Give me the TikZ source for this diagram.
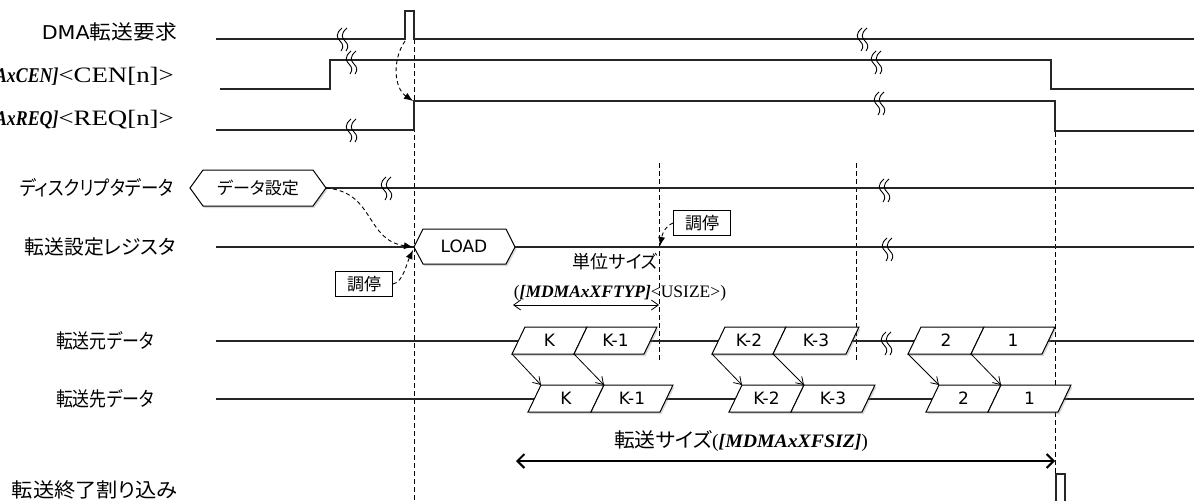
\documentclass[tikz,border=0pt]{standalone}
\usepackage{fontspec}
\usepackage{graphicx}
\setmainfont{Liberation Serif}
\newfontfamily\jp[RawFeature=+palt]{Noto Sans CJK JP}
\newfontfamily\vd{DejaVu Sans}
\usetikzlibrary{arrows.meta,shadows}
\newcommand\fitw[2]{\resizebox{#1}{\height}{#2}}
\newcommand\pcell[5]{%
  \filldraw[cellbox] (#2,{#3+27}) -- ({#2+13},#3) -- ({#2+13+#4},#3) -- ({#2+#4},{#3+27}) -- cycle;
  \coordinate (#1-bl) at (#2,{#3+27});
  \coordinate (#1-tl) at ({#2+13},#3);
  \node[celltxt] (#1) at ({#2+6.5+#4/2},{#3+13.5}) {#5};}
\begin{document}
\begin{tikzpicture}[x=1pt,y=-1pt,
  sig/.style={line width=1.1pt, black!85},
  vdash/.style={line width=0.9pt, dash pattern=on 5pt off 3pt},
  cue/.style={line width=0.9pt, dash pattern=on 4pt off 3pt, -{Latex[length=9pt,width=7pt]}},
  mv/.style={line width=0.8pt, -{Straight Barb[length=7pt,width=9pt]}},
  cellbox/.style={draw, line width=1pt, fill=white, drop shadow={opacity=0.3, shadow xshift=1.5pt, shadow yshift=-2pt}},
  celltxt/.style={font=\vd\fontsize{17}{20}\selectfont, inner sep=0pt},
  lbl/.style={font=\jp\fontsize{20}{24}\selectfont, inner sep=0pt},
  ser/.style={font=\fontsize{22}{26}\selectfont, inner sep=0pt},
  boxtxt/.style={font=\jp\fontsize{17}{20}\selectfont, inner sep=0pt},
  arb/.style={draw, line width=0.9pt, fill=white, font=\jp\fontsize{17}{20}\selectfont, minimum width=57pt, minimum height=25pt, inner sep=0pt},
  brkmark/.pic={
    \draw[line width=0.9pt] (2,-11) .. controls (-5,-5) and (-3,-1) .. (0,2) .. controls (3,5) and (4,8) .. (1,12);
    \draw[line width=0.9pt] (7,-11) .. controls (0,-5) and (2,-1) .. (5,2) .. controls (8,5) and (9,8) .. (6,12);}
]
\useasboundingbox (0,0) rectangle (1194,501);
\clip (0,0) rectangle (1194,501);

% labels
\node[lbl, anchor=east] (lDMA) at (177,32) {\fitw{135pt}{{\vd\fontsize{19}{22}\selectfont DMA}転送要求}};
\node[ser, anchor=east] (lCEN) at (174,76) {\scalebox{0.85}[1]{\fontsize{21}{24}\selectfont\textbf{\textit{[MDMAxCEN]}}}\scalebox{1.22}[1]{<CEN[n]>}};
\node[ser, anchor=east] (lREQ) at (174,120) {\scalebox{0.85}[1]{\fontsize{21}{24}\selectfont\textbf{\textit{[MDMAxREQ]}}}\scalebox{1.22}[1]{<REQ[n]>}};
\node[lbl, anchor=east] (lDesc) at (174,188) {\fitw{154pt}{ディスクリプタデータ}};
\node[lbl, anchor=east] (lReg) at (176,247) {\fitw{151pt}{転送設定レジスタ}};
\node[lbl] (lSrc) at (105,341) {\fitw{98pt}{転送元データ}};
\node[lbl] (lDst) at (105,399) {\fitw{98pt}{転送先データ}};
\node[lbl, anchor=east] (lEnd) at (178,490) {\fitw{166pt}{転送終了割り込み}};

% vertical dashed guides
\draw[vdash] (414,39) -- (414,501);
\draw[vdash] (659,163) -- (659,362);
\draw[vdash] (856,163) -- (856,362);
\draw[vdash] (1055,132) -- (1055,501);

% DMA request
\draw[sig] (216,39) -- (405,39) -- (405,11) -- (414,11) -- (414,39) -- (1194,39);
% CEN
\draw[sig] (220,89) -- (330,89) -- (330,60) -- (1051,60) -- (1051,89) -- (1194,89);
% REQ
\draw[sig] (216,130) -- (414,130) -- (414,101) -- (1055,101) -- (1055,131) -- (1194,131);
% descriptor
\draw[sig] (326,188) -- (1194,188);
\filldraw[cellbox] (190,188) -- (203,170) -- (313,170) -- (326,188) -- (313,206) -- (203,206) -- cycle;
\node[boxtxt] (dset) at (258,188) {データ設定};
\coordinate (dset-e) at (326,188);
% transfer register
\draw[sig] (216,247) -- (414,247);
\draw[sig] (515,247) -- (1194,247);
\filldraw[cellbox] (414,247) -- (423,229) -- (506,229) -- (515,247) -- (506,264) -- (423,264) -- cycle;
\node[celltxt] (load) at (464,246) {LOAD};
\coordinate (load-w) at (413,247);
\coordinate (load-w2) at (413,250);

% source / destination rows
\draw[sig] (216,341) -- (1194,341);
\draw[sig] (216,399) -- (1194,399);

\pcell{sK}{512}{327}{62}{K}
\pcell{sK1}{574}{327}{70}{K-1}
\pcell{sK2}{712}{327}{61}{K-2}
\pcell{sK3}{773}{327}{73}{K-3}
\pcell{s2}{908}{327}{63}{2}
\pcell{s1}{971}{327}{71}{1}

\pcell{dK}{528}{385}{63}{K}
\pcell{dK1}{591}{385}{69}{K-1}
\pcell{dK2}{729}{385}{62}{K-2}
\pcell{dK3}{791}{385}{71}{K-3}
\pcell{d2}{926}{385}{62}{2}
\pcell{d1}{988}{385}{70}{1}

\draw[mv] (sK-bl) -- (dK-tl);
\draw[mv] (sK1-bl) -- (dK1-tl);
\draw[mv] (sK2-bl) -- (dK2-tl);
\draw[mv] (sK3-bl) -- (dK3-tl);
\draw[mv] (s2-bl) -- (d2-tl);
\draw[mv] (s1-bl) -- (d1-tl);

% break marks
\pic at (340,39) {brkmark};
\pic at (860,39) {brkmark};
\pic at (349,62) {brkmark};
\pic at (874,62) {brkmark};
\pic at (349,130) {brkmark};
\pic at (877,103) {brkmark};
\pic at (384,188) {brkmark};
\pic at (882,190) {brkmark};
\pic at (885,249) {brkmark};
\pic at (884,343) {brkmark};

% arbitration boxes
\node[arb] (arb1) at (364,284) {調停};
\node[arb] (arb2) at (702,223) {調停};

% cue arrows
\coordinate (dmaP) at (405,41);
\coordinate (reqR) at (413,101);
\coordinate (usz) at (660,246);
\draw[cue] (dmaP) .. controls (392,60) and (394,88) .. (reqR);
\draw[cue] (dset-e) .. controls (375,192) and (365,240) .. (load-w);
\draw[cue] (arb1.east) .. controls (403,282) and (406,265) .. (load-w2);
\draw[cue] (arb2.west) .. controls (665,226) and (662,235) .. (usz);

% unit size
\node[boxtxt, anchor=east, font=\jp\fontsize{18}{21}\selectfont] (usize) at (658,262) {単位サイズ};
\node[inner sep=0pt, font=\fontsize{17.5}{20}\selectfont] (usizeReg) at (620,293) {(\textbf{\textit{[MDMAxXFTYP]}}<USIZE>)};
\coordinate (ua) at (513,305);
\coordinate (ub) at (659,305);
\draw[line width=0.8pt, {Straight Barb[length=7pt,width=10pt]}-{Straight Barb[length=7pt,width=10pt]}] (ua) -- (ub);

% transfer size
\node[inner sep=0pt] (tsize) at (741,441) {\fitw{254pt}{{\jp\fontsize{20}{23}\selectfont 転送サイズ}{\fontsize{19}{22}\selectfont(\textbf{\textit{[MDMAxXFSIZ]}})}}};
\coordinate (ta) at (516,461);
\coordinate (tb) at (1055,461);
\draw[line width=2pt, {Straight Barb[length=7pt,width=14pt]}-{Straight Barb[length=7pt,width=14pt]}] (ta) -- (tb);

% transfer end interrupt pulse
\draw[sig] (1056,501) -- (1056,474) -- (1065,474) -- (1065,501);
\end{tikzpicture}
\end{document}
